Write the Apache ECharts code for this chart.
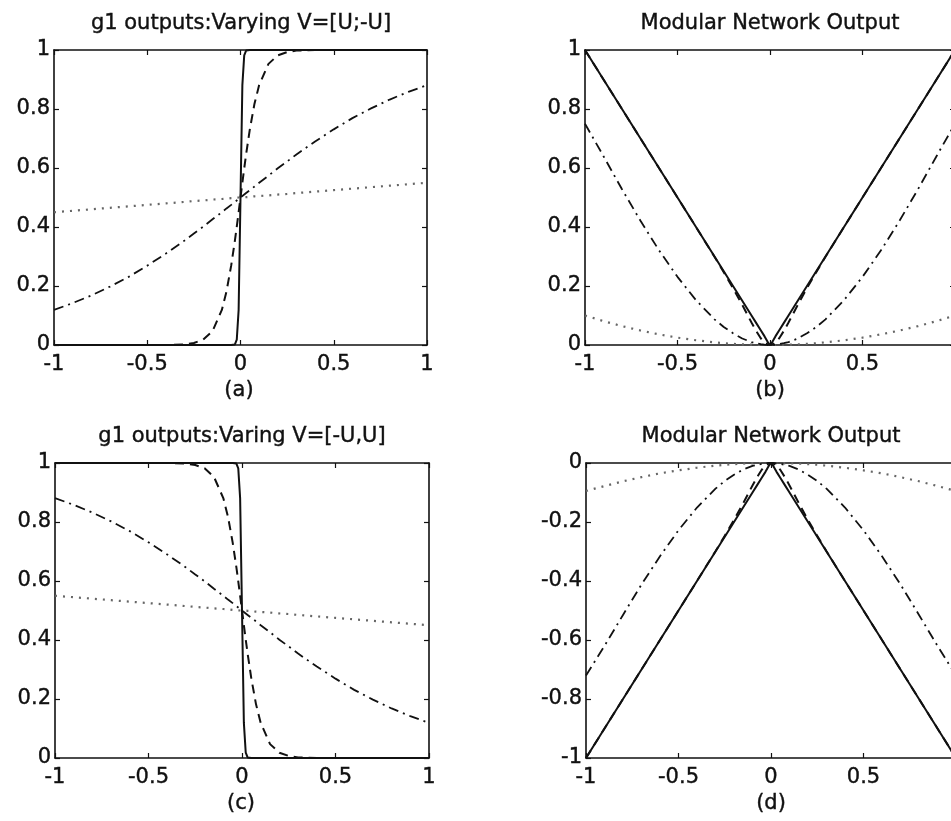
<!DOCTYPE html>
<html>
<head>
<meta charset="utf-8">
<script src="https://cdn.jsdelivr.net/npm/echarts@6/dist/echarts.min.js"></script>
<style>
html,body{margin:0;padding:0;background:#fff;}
#chart{width:951px;height:821px;}
</style>
</head>
<body>
<div id="chart"></div>
<script>
// shared x samples (U input)
const xs = [-1,-0.9,-0.8,-0.7,-0.6,-0.5,-0.4,-0.3,-0.25,-0.2,-0.15,-0.1,-0.075,-0.05,-0.03,-0.02,-0.01,0,0.01,0.02,0.03,0.05,0.075,0.1,0.15,0.2,0.25,0.3,0.4,0.5,0.6,0.7,0.8,0.9,1];

// (a) g1 outputs, V=[U;-U]
const aDot     = [0.450,0.455,0.460,0.465,0.470,0.475,0.480,0.485,0.488,0.490,0.493,0.495,0.496,0.498,0.499,0.499,0.500,0.500,0.500,0.501,0.501,0.502,0.504,0.505,0.507,0.510,0.512,0.515,0.520,0.525,0.530,0.535,0.540,0.545,0.550];
const aDashDot = [0.119,0.142,0.168,0.198,0.231,0.269,0.310,0.354,0.378,0.401,0.426,0.450,0.463,0.475,0.485,0.490,0.495,0.500,0.505,0.510,0.515,0.525,0.537,0.550,0.574,0.599,0.622,0.646,0.690,0.731,0.769,0.802,0.832,0.858,0.881];
const aDash    = [0,0,0,0,0,0,0,0.002,0.007,0.018,0.047,0.119,0.182,0.269,0.354,0.401,0.450,0.500,0.550,0.599,0.646,0.731,0.818,0.881,0.953,0.982,0.993,0.998,1,1,1,1,1,1,1];
const aSolid   = [0,0,0,0,0,0,0,0,0,0,0,0,0,0,0.002,0.018,0.119,0.500,0.881,0.982,0.998,1,1,1,1,1,1,1,1,1,1,1,1,1,1];

// (c) g1 outputs, V=[-U,U]
const cDot     = [0.550,0.545,0.540,0.535,0.530,0.525,0.520,0.515,0.512,0.510,0.507,0.505,0.504,0.502,0.501,0.501,0.500,0.500,0.500,0.499,0.499,0.498,0.496,0.495,0.493,0.490,0.488,0.485,0.480,0.475,0.470,0.465,0.460,0.455,0.450];
const cDashDot = [0.881,0.858,0.832,0.802,0.769,0.731,0.690,0.646,0.622,0.599,0.574,0.550,0.537,0.525,0.515,0.510,0.505,0.500,0.495,0.490,0.485,0.475,0.463,0.450,0.426,0.401,0.378,0.354,0.310,0.269,0.231,0.198,0.168,0.142,0.119];
const cDash    = [1,1,1,1,1,1,1,0.998,0.993,0.982,0.953,0.881,0.818,0.731,0.646,0.599,0.550,0.500,0.450,0.401,0.354,0.269,0.182,0.119,0.047,0.018,0.007,0.002,0,0,0,0,0,0,0];
const cSolid   = [1,1,1,1,1,1,1,1,1,1,1,1,1,1,0.998,0.982,0.881,0.500,0.119,0.018,0.002,0,0,0,0,0,0,0,0,0,0,0,0,0,0];

// (b) modular network output
const bSolid   = [1,0.9,0.8,0.7,0.6,0.5,0.4,0.3,0.25,0.2,0.15,0.1,0.075,0.05,0.030,0.019,0.008,0,0.008,0.019,0.030,0.05,0.075,0.1,0.15,0.2,0.25,0.3,0.4,0.5,0.6,0.7,0.8,0.9,1];
const bDash    = [1,0.9,0.8,0.7,0.6,0.5,0.4,0.299,0.247,0.193,0.136,0.076,0.048,0.023,0.009,0.004,0.001,0,0.001,0.004,0.009,0.023,0.048,0.076,0.136,0.193,0.247,0.299,0.4,0.5,0.6,0.7,0.8,0.9,1];
const bDashDot = [0.750,0.640,0.528,0.421,0.321,0.231,0.152,0.087,0.061,0.040,0.022,0.010,0.006,0.003,0.001,0,0,0,0,0,0.001,0.003,0.006,0.010,0.022,0.040,0.061,0.087,0.152,0.231,0.321,0.421,0.528,0.640,0.750];
const bDot     = [0.100,0.081,0.064,0.049,0.036,0.025,0.016,0.009,0.006,0.004,0.002,0.001,0.001,0,0,0,0,0,0,0,0,0,0.001,0.001,0.002,0.004,0.006,0.009,0.016,0.025,0.036,0.049,0.064,0.081,0.100];

// (d) modular network output (negated)
const dSolid   = [-1,-0.9,-0.8,-0.7,-0.6,-0.5,-0.4,-0.3,-0.25,-0.2,-0.15,-0.1,-0.075,-0.05,-0.030,-0.019,-0.008,0,-0.008,-0.019,-0.030,-0.05,-0.075,-0.1,-0.15,-0.2,-0.25,-0.3,-0.4,-0.5,-0.6,-0.7,-0.8,-0.9,-1];
const dDash    = [-1,-0.9,-0.8,-0.7,-0.6,-0.5,-0.4,-0.299,-0.247,-0.193,-0.136,-0.076,-0.048,-0.023,-0.009,-0.004,-0.001,0,-0.001,-0.004,-0.009,-0.023,-0.048,-0.076,-0.136,-0.193,-0.247,-0.299,-0.4,-0.5,-0.6,-0.7,-0.8,-0.9,-1];
const dDashDot = [-0.720,-0.620,-0.515,-0.412,-0.316,-0.228,-0.151,-0.087,-0.061,-0.040,-0.022,-0.010,-0.006,-0.003,-0.001,0,0,0,0,0,-0.001,-0.003,-0.006,-0.010,-0.022,-0.040,-0.061,-0.087,-0.151,-0.228,-0.316,-0.412,-0.515,-0.620,-0.720];
const dDot     = [-0.095,-0.078,-0.062,-0.048,-0.035,-0.025,-0.016,-0.009,-0.006,-0.004,-0.002,-0.001,-0.001,0,0,0,0,0,0,0,0,0,-0.001,-0.001,-0.002,-0.004,-0.006,-0.009,-0.016,-0.025,-0.035,-0.048,-0.062,-0.078,-0.095];

// text
const titles = ['g1 outputs:Varying V=[U;-U]', 'Modular Network Output', 'g1 outputs:Varing V=[-U,U]', 'Modular Network Output'];
const captions = ['(a)', '(b)', '(c)', '(d)'];

// layout
const grids = [
  {left: 54, top: 50, width: 373, height: 295},
  {left: 585, top: 50, width: 370, height: 295},
  {left: 55, top: 463, width: 374, height: 295},
  {left: 586, top: 463, width: 370, height: 295}
];
const yRanges = [[0,1],[0,1],[0,1],[-1,0]];
const titlePos = [[241,24],[770,24],[242,437],[771,437]];
const capPos = [[239,391],[770,391],[241,804],[771,804]];

const FONT = 'DejaVu Sans';
const INK = '#111';
const TXT = {fontFamily: FONT, fontSize: 21, color: INK, textBorderColor: INK, textBorderWidth: 0.4};

const seriesSets = [
  [aSolid, aDash, aDashDot, aDot],
  [bSolid, bDash, bDashDot, bDot],
  [cSolid, cDash, cDashDot, cDot],
  [dSolid, dDash, dDashDot, dDot]
];
const styles = [
  {type: 'solid', color: INK, width: 2},
  {type: [9, 6], color: INK, width: 2},
  {type: [10, 5, 2, 5], color: INK, width: 1.8},
  {type: [2, 6], color: '#666', width: 2.2}
];

const xAxes = [], yAxes = [], series = [], graphics = [];
grids.forEach((g, i) => {
  const cut = (i === 1 || i === 3);
  xAxes.push({
    type: 'value', gridIndex: i, min: -1, max: 1, interval: 0.5, position: 'bottom',
    axisLine: {onZero: false, lineStyle: {color: INK, width: 1.6}},
    axisTick: {inside: true, length: 5, lineStyle: {color: INK, width: 1.2}},
    axisLabel: Object.assign({margin: 9, showMaxLabel: !cut}, TXT),
    splitLine: {show: false}
  });
  xAxes.push({
    type: 'value', gridIndex: i, min: -1, max: 1, interval: 0.5, position: 'top',
    axisLine: {onZero: false, lineStyle: {color: INK, width: 1.6}},
    axisTick: {inside: true, length: 5, lineStyle: {color: INK, width: 1.2}},
    axisLabel: {show: false}, splitLine: {show: false}
  });
  yAxes.push({
    type: 'value', gridIndex: i, min: yRanges[i][0], max: yRanges[i][1], interval: 0.2, position: 'left',
    axisLine: {onZero: false, lineStyle: {color: INK, width: 1.6}},
    axisTick: {inside: true, length: 5, lineStyle: {color: INK, width: 1.2}},
    axisLabel: Object.assign({margin: 4}, TXT),
    splitLine: {show: false}
  });
  yAxes.push({
    type: 'value', gridIndex: i, min: yRanges[i][0], max: yRanges[i][1], interval: 0.2, position: 'right',
    axisLine: {onZero: false, lineStyle: {color: INK, width: 1.6}},
    axisTick: {inside: true, length: 5, lineStyle: {color: INK, width: 1.2}},
    axisLabel: {show: false}, splitLine: {show: false}
  });
  seriesSets[i].forEach((ys, k) => {
    series.push({
      type: 'line', xAxisIndex: 2 * i, yAxisIndex: 2 * i,
      data: xs.map((x, j) => [x, ys[j]]),
      showSymbol: false, symbol: 'none', smooth: false, silent: true,
      lineStyle: styles[k], z: 10 - k
    });
  });
  [[titles[i], titlePos[i]], [captions[i], capPos[i]]].forEach(([t, p]) => {
    graphics.push({
      type: 'text', x: p[0], y: p[1], silent: true,
      style: {text: t, fontFamily: FONT, fontSize: 21, fill: INK, stroke: INK, lineWidth: 0.4,
        textAlign: 'center', textVerticalAlign: 'middle', verticalAlign: 'middle', align: 'center'}
    });
  });
});

const chart = echarts.init(document.getElementById('chart'), null, {renderer: 'canvas'});
chart.setOption({
  backgroundColor: '#fff',
  animation: false,
  grid: grids.map(g => Object.assign({containLabel: false, outerBoundsMode: 'none'}, g)),
  xAxis: xAxes,
  yAxis: yAxes,
  series: series,
  graphic: graphics
});
</script>
</body>
</html>
